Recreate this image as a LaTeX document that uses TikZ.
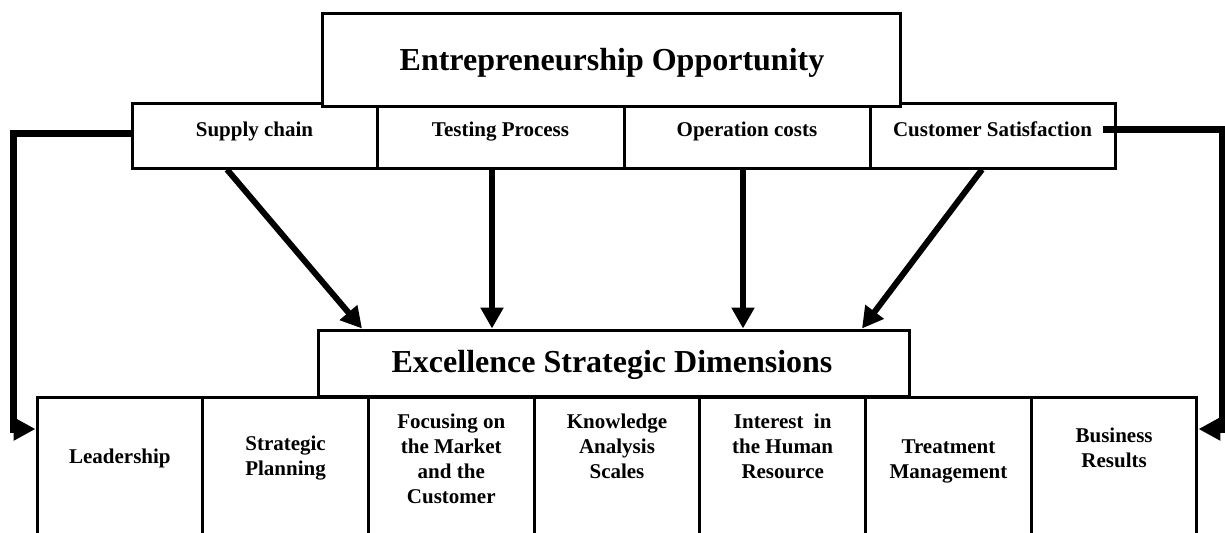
\documentclass[tikz,border=0pt]{standalone}
\usepackage{fontspec}
\setmainfont{Liberation Serif}
\usetikzlibrary{arrows.meta,calc}
% centred stack of lines whose baseline is that of the first line
\newcommand{\cellstack}[1]{\begin{tabular}[t]{@{}c@{}}#1\end{tabular}}
\begin{document}
\begin{tikzpicture}[x=0.5pt,y=-0.5pt,
  frame/.style={draw,line width=1.5pt,fill=white,inner sep=0pt},
  bigtext/.style={font=\bfseries\fontsize{16}{19}\selectfont,inner sep=0pt,anchor=base},
  smalltext/.style={font=\bfseries\fontsize{10.5}{12.5}\selectfont,inner sep=0pt,anchor=base},
  flow/.style={line width=3pt,-{Triangle[length=10.5pt,width=11pt]}},
  side/.style={line width=3.5pt,-{Triangle[length=11pt,width=11pt]}}
]
\useasboundingbox (0,0) rectangle (1225,532);
\clip (0,0) rectangle (1225,532);

% row of opportunity factors
\node[frame,minimum width=122.5pt,minimum height=32.5pt] (sc) at (254.5,135.5) {};
\node[frame,minimum width=123.5pt,minimum height=32.5pt] (tp) at (500.5,135.5) {};
\node[frame,minimum width=123pt,minimum height=32.5pt] (oc) at (747,135.5) {};
\node[frame,minimum width=122.5pt,minimum height=32.5pt] (cs) at (992.5,135.5) {};
\node[smalltext] (tsc) at (254.5,136) {Supply chain};
\node[smalltext] (ttp) at (500.5,136) {Testing Process};
\node[smalltext] (toc) at (747,136) {Operation costs};
\node[smalltext] (tcs) at (992.5,136) {Customer Satisfaction};

% heading box
\node[frame,minimum width=289pt,minimum height=46.5pt] (top) at (611,59.5) {};
\node[bigtext] (ttop) at (612,70) {Entrepreneurship Opportunity};

% row of excellence dimensions (runs past the lower edge)
\foreach \i/\name in {0/lead,1/plan,2/mark,3/know,4/hum,5/treat,6/bres}{
  \node[frame,minimum width=82.857pt,minimum height=81.5pt] (\name) at ({119.86+165.71*\i},478.5) {};
}
\node[smalltext] (tlead) at (lead |- 0,463) {Leadership};
\node[smalltext] (tplan) at (plan |- 0,450) {\cellstack{Strategic\\Planning}};
\node[smalltext] (tmark) at (mark |- 0,428) {\cellstack{Focusing on\\the Market\\and the\\Customer}};
\node[smalltext] (tknow) at (know |- 0,428) {\cellstack{Knowledge\\Analysis\\Scales}};
\node[smalltext] (thum) at (hum |- 0,428) {\cellstack{Interest\ \ in\\the Human\\Resource}};
\node[smalltext] (ttreat) at (treat |- 0,453) {\cellstack{Treatment\\Management}};
\node[smalltext] (tbres) at (bres |- 0,442) {\cellstack{Business\\Results}};

% dimensions heading box
\node[frame,minimum width=295.5pt,minimum height=33pt] (mid) at (613.5,363) {};
\node[bigtext] (tmid) at (612,372) {Excellence Strategic Dimensions};

% factors feeding the dimensions
\draw[flow] ($(sc.south)+(-27.5,0)$) -- ($(mid.north)+(-251.5,0)$);
\draw[flow] ($(tp.south)+(-8.5,0)$) coordinate (a2) -- (a2 |- mid.north);
\draw[flow] ($(oc.south)+(-4,0)$) coordinate (a3) -- (a3 |- mid.north);
\draw[flow] ($(cs.south)+(-10.5,0)$) -- ($(mid.north)+(248.5,0)$);

% side links to the outer dimensions
\draw[side] ($(sc.west)+(0,-2.5)$) -- ++(-117.5,0) |- ($(lead.west)+(0,-49.5)$);
\coordinate (csout) at ($(cs.east)+(-14,-6.5)$);
\draw[side] (csout) -- ++(120,0) |- ($(bres.east)+(0,-49.5)$);
\end{tikzpicture}
\end{document}
